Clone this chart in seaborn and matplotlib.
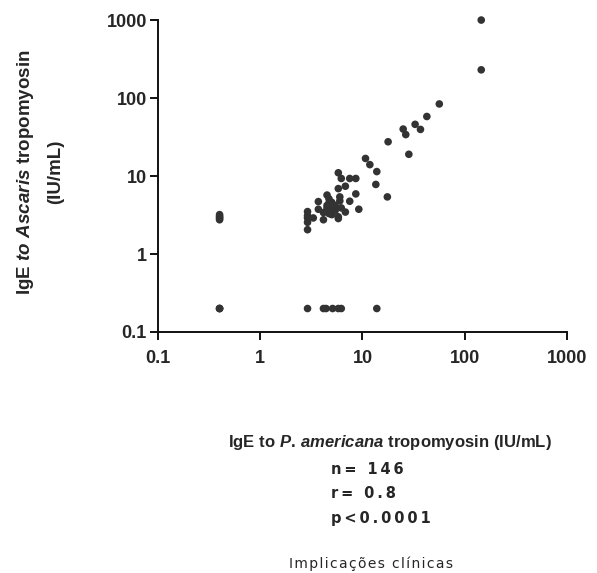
import numpy as np
import pandas as pd
import seaborn as sns
import matplotlib.pyplot as plt

# IgE to P. americana tropomyosin (x) vs IgE to Ascaris tropomyosin (y), IU/mL
x_vals = [0.4, 0.4, 0.4, 0.4, 0.4, 0.4, 0.4, 0.4,
          2.9, 2.9, 2.9, 2.9, 2.9, 2.9,
          3.3, 3.7, 3.7,
          4.15, 4.15, 4.15, 4.4,
          4.5, 4.5, 4.5, 4.5,
          4.7, 4.7, 4.7, 4.7,
          5.0, 5.0, 5.0, 5.0, 5.1,
          5.4, 5.4,
          5.8, 5.8, 5.8, 5.8, 5.8,
          6.0, 6.0,
          6.2, 6.2, 6.2,
          6.8, 6.8, 7.5, 7.5, 8.6, 8.6, 9.2,
          10.7, 11.8, 13.8, 13.8, 13.5, 17.5, 17.8,
          25, 26.5, 28.4, 32.7, 36.9, 42.6, 56.4, 145, 145]
y_vals = [3.2, 3.05, 2.95, 2.85, 2.75, 0.2, 0.2, 0.2,
          3.5, 3.1, 2.9, 2.55, 2.05, 0.2,
          2.9, 4.7, 3.75,
          3.4, 2.75, 0.2, 0.2,
          5.7, 4.2, 3.9, 3.6,
          5.1, 4.5, 3.8, 3.3,
          4.6, 4.0, 3.5, 3.2, 0.2,
          4.2, 3.6,
          11.0, 6.9, 3.0, 0.2, 2.85,
          5.4, 4.8,
          9.3, 3.9, 0.2,
          7.4, 3.45, 9.3, 4.75, 9.3, 5.9, 3.75,
          16.8, 14.0, 11.4, 0.2, 7.8, 5.4, 27.5,
          40, 34, 19, 46, 39.6, 58, 84, 1000, 230]
ticks = [0.1, 1, 10, 100, 1000]
tick_labels = ['0.1', '1', '10', '100', '1000']
stats = ['n= 146', 'r= 0.8', 'p<0.0001']
footer = 'Implicações clínicas'

df = pd.DataFrame({'americana': x_vals, 'ascaris': y_vals})

sns.set_style('ticks')
plt.rcParams['font.family'] = ['Liberation Sans', 'DejaVu Sans']
plt.rcParams['mathtext.fontset'] = 'custom'
plt.rcParams['mathtext.rm'] = 'Liberation Sans:bold'
plt.rcParams['mathtext.it'] = 'Liberation Sans:bold:italic'
plt.rcParams['mathtext.bf'] = 'Liberation Sans:bold'


def spaced(s, sep='\u2009'):
    # extra space between letters to mimic the wide tracking of the original
    return sep.join(s)


fig = plt.figure(figsize=(5.97, 5.73), dpi=100)
ax = fig.add_axes([0.2647, 0.4206, 0.685, 0.5444])

sns.scatterplot(data=df, x='americana', y='ascaris', color='#333333',
                s=30, edgecolor='none', ax=ax, clip_on=False, zorder=3)
ax.set_xscale('log')
ax.set_yscale('log')
ax.set_xlim(0.1, 1000)
ax.set_ylim(0.1, 1000)
ax.set_xticks(ticks)
ax.set_yticks(ticks)
ax.set_xticklabels(tick_labels)
ax.set_yticklabels(tick_labels)
ax.minorticks_off()
ax.tick_params(axis='both', length=6, width=1.4, color='#111111',
               labelsize=13, pad=2)
ax.tick_params(axis='x', pad=7)
for lab in ax.get_xticklabels() + ax.get_yticklabels():
    lab.set_fontweight('bold')
sns.despine(ax=ax)
for sp in ['left', 'bottom']:
    ax.spines[sp].set_linewidth(1.4)
    ax.spines[sp].set_color('#111111')
ax.set_xlabel('')
ax.set_ylabel('')

# y axis label with italics
fig.text(26 / 597, 1 - 172 / 573,
         r'$\mathrm{IgE}\ \mathit{to\ Ascaris}\ \mathrm{tropomyosin}$',
         rotation=90, ha='center', va='center', fontsize=13.5)
fig.text(56 / 597, 1 - 172 / 573, '(IU/mL)', rotation=90, ha='center',
         va='center', fontsize=13.5, fontweight='bold')

fig.text(390 / 597, 1 - 443 / 573,
         r'$\mathrm{IgE\ to}\ \mathit{P.\,americana}\ \mathrm{tropomyosin\ (IU/mL)}$',
         ha='center', va='center', fontsize=12)

for i, s in enumerate(stats):
    fig.text(331 / 597, 1 - (469 + 24.5 * i) / 573, spaced(s), ha='left',
             va='center', fontsize=10.5, fontweight='bold',
             family='DejaVu Sans')

fig.text(371 / 597, 1 - 564 / 573, spaced(footer, '\u200a'), ha='center',
         va='center', fontsize=10, family='DejaVu Sans')

fig.savefig('out.png', dpi=100)
